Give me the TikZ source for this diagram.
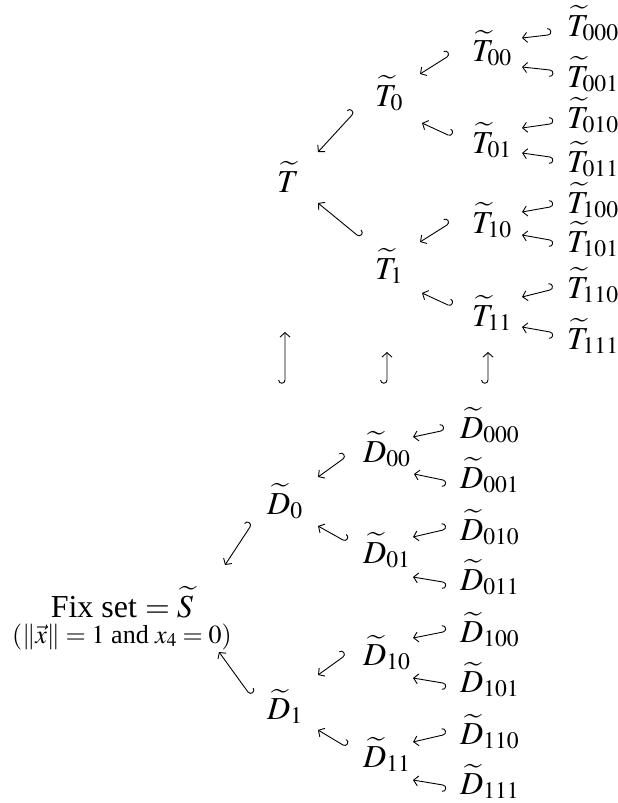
\documentclass[tikz,border=0pt]{standalone}
\usepackage{mathptmx}
\usepackage{fontspec}
\setmainfont{Liberation Serif}
\usetikzlibrary{arrows.meta,calc}
% #1 = side of the hook (-1 right of travel, +1 left of travel), #2 tail, #3 head
\newcommand\hk[3]{%
  \draw[arr] let \p1=(#2), \p2=(#3), \n1={atan2(\y2-\y1,\x2-\x1)}, \n2={\n1+(#1)*90} in
    ($(\p1)+(\n2:6.4pt)$) .. controls ($(\p1)+(\n2:6.4pt)+(\n1+180:4.3pt)$) and ($(\p1)+(\n1+180:4.3pt)$) .. (\p1) -- (\p2);}
\begin{document}
\begin{tikzpicture}[x=1pt,y=-1pt,
  lbl/.style={anchor=base west,inner sep=0pt,font=\fontsize{32}{38}\selectfont},
  arr/.style={line width=0.9pt,-{Straight Barb[length=4.5pt,width=10pt]}}]
\useasboundingbox (0,0) rectangle (618,803);
% T tree
\node[lbl] (T)    at (277,192) {$\widetilde{T}$};
\node[lbl] (T0)   at (375,106) {$\widetilde{T}_{0}$};
\node[lbl] (T1)   at (375,279) {$\widetilde{T}_{1}$};
\node[lbl] (T00)  at (472,61)  {$\widetilde{T}_{00}$};
\node[lbl] (T01)  at (472,153) {$\widetilde{T}_{01}$};
\node[lbl] (T10)  at (472,233) {$\widetilde{T}_{10}$};
\node[lbl] (T11)  at (472,326) {$\widetilde{T}_{11}$};
\node[lbl] (T000) at (567,36)  {$\widetilde{T}_{000}$};
\node[lbl] (T001) at (567,87)  {$\widetilde{T}_{001}$};
\node[lbl] (T010) at (567,128) {$\widetilde{T}_{010}$};
\node[lbl] (T011) at (567,172) {$\widetilde{T}_{011}$};
\node[lbl] (T100) at (567,213) {$\widetilde{T}_{100}$};
\node[lbl] (T101) at (567,252) {$\widetilde{T}_{101}$};
\node[lbl] (T110) at (567,298) {$\widetilde{T}_{110}$};
\node[lbl] (T111) at (567,349) {$\widetilde{T}_{111}$};
% D tree
\node[lbl] (D0)   at (267,514) {$\widetilde{D}_{0}$};
\node[lbl] (D1)   at (267,719) {$\widetilde{D}_{1}$};
\node[lbl] (D00)  at (363,462) {$\widetilde{D}_{00}$};
\node[lbl] (D01)  at (363,563) {$\widetilde{D}_{01}$};
\node[lbl] (D10)  at (363,665) {$\widetilde{D}_{10}$};
\node[lbl] (D11)  at (363,767) {$\widetilde{D}_{11}$};
\node[lbl] (D000) at (460,438) {$\widetilde{D}_{000}$};
\node[lbl] (D001) at (460,488) {$\widetilde{D}_{001}$};
\node[lbl] (D010) at (460,540) {$\widetilde{D}_{010}$};
\node[lbl] (D011) at (460,590) {$\widetilde{D}_{011}$};
\node[lbl] (D100) at (460,642) {$\widetilde{D}_{100}$};
\node[lbl] (D101) at (460,692) {$\widetilde{D}_{101}$};
\node[lbl] (D110) at (460,744) {$\widetilde{D}_{110}$};
\node[lbl] (D111) at (460,794) {$\widetilde{D}_{111}$};
% fix set
\node[lbl,anchor=base] (S) at (122,617) {Fix set $=\widetilde{S}$};
\node[anchor=base,inner sep=0pt,font=\fontsize{26}{30}\selectfont] (Ssub) at (122,643) {$(\|\vec{x}\|=1$ and $x_4=0)$};
% T arrows
\hk{-1}{[shift={(-19,-1)}]T000.base west}{[shift={(50,-23)}]T00.base west}
\hk{1}{[shift={(-17,-17)}]T001.base west}{[shift={(50,6)}]T00.base west}
\hk{-1}{[shift={(-17,-4)}]T010.base west}{[shift={(50,-25)}]T01.base west}
\hk{1}{[shift={(-17,-15)}]T011.base west}{[shift={(50,0)}]T01.base west}
\hk{-1}{[shift={(-17,-6)}]T100.base west}{[shift={(50,-21)}]T10.base west}
\hk{1}{[shift={(-17,-12)}]T101.base west}{[shift={(50,2)}]T10.base west}
\hk{-1}{[shift={(-17,-8)}]T110.base west}{[shift={(50,-29)}]T11.base west}
\hk{1}{[shift={(-17,-17)}]T111.base west}{[shift={(50,1)}]T11.base west}
\hk{-1}{[shift={(-25,-4)}]T00.base west}{[shift={(45,-32)}]T0.base west}
\hk{-1}{[shift={(-24,-18)}]T01.base west}{[shift={(47,17)}]T0.base west}
\hk{-1}{[shift={(-25,-8)}]T10.base west}{[shift={(45,-37)}]T1.base west}
\hk{-1}{[shift={(-24,-21)}]T11.base west}{[shift={(47,14)}]T1.base west}
\hk{-1}{[shift={(-23,9)}]T0.base west}{[shift={(41,-40)}]T.base west}
\hk{-1}{[shift={(-18,-44)}]T1.base west}{[shift={(41,11)}]T.base west}
% D arrows
\hk{-1}{[shift={(-19,-7)}]D000.base west}{[shift={(50,-25)}]D00.base west}
\hk{1}{[shift={(-17,-8)}]D001.base west}{[shift={(51,12)}]D00.base west}
\hk{-1}{[shift={(-17,-10)}]D010.base west}{[shift={(50,-26)}]D01.base west}
\hk{1}{[shift={(-17,-8)}]D011.base west}{[shift={(50,14)}]D01.base west}
\hk{-1}{[shift={(-17,-10)}]D100.base west}{[shift={(50,-27)}]D10.base west}
\hk{1}{[shift={(-17,-9)}]D101.base west}{[shift={(50,13)}]D10.base west}
\hk{-1}{[shift={(-17,-9)}]D110.base west}{[shift={(50,-25)}]D11.base west}
\hk{1}{[shift={(-17,-9)}]D111.base west}{[shift={(50,13)}]D11.base west}
\hk{-1}{[shift={(-20,-3)}]D00.base west}{[shift={(51,-37)}]D0.base west}
\hk{-1}{[shift={(-20,-23)}]D01.base west}{[shift={(51,12)}]D0.base west}
\hk{-1}{[shift={(-20,-8)}]D10.base west}{[shift={(51,-44)}]D1.base west}
\hk{-1}{[shift={(-20,-22)}]D11.base west}{[shift={(51,11)}]D1.base west}
\hk{-1}{[shift={(-17,13)}]D0.base west}{[shift={(103,-52)}]S.base}
\hk{-1}{[shift={(-19,-27)}]D1.base west}{[shift={(97,35)}]S.base}
% vertical inclusions
\coordinate (v1t) at (285,380); \coordinate (v1h) at (285,332);
\coordinate (v2t) at (387,380); \coordinate (v2h) at (387,352);
\coordinate (v3t) at (488,380); \coordinate (v3h) at (488,352);
\hk{1}{v1t}{v1h}
\hk{1}{v2t}{v2h}
\hk{1}{v3t}{v3h}
\end{tikzpicture}
\end{document}
